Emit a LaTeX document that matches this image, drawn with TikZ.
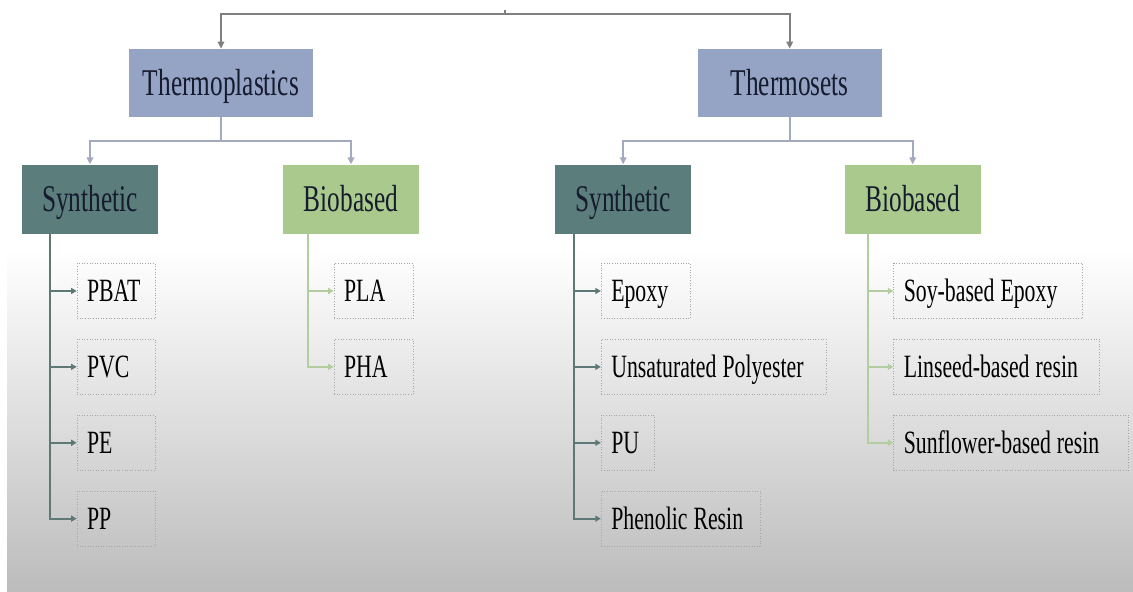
\documentclass[tikz,border=0pt]{standalone}
\usepackage{fontspec}
\setmainfont{Liberation Serif}[FakeStretch=0.67]
\usepackage{tikz}
\usetikzlibrary{arrows.meta,positioning,calc}
\usepackage{xcolor}
\definecolor{famblue}{HTML}{95A3C5}
\definecolor{synteal}{HTML}{5B7E7D}
\definecolor{biogreen}{HTML}{A9C98D}
\definecolor{headtext}{HTML}{161B2E}
\definecolor{busgray}{HTML}{7F7F7F}
\definecolor{subgray}{HTML}{A3A9BE}
\definecolor{synline}{HTML}{5E7875}
\definecolor{bioline}{HTML}{B3CE9E}
\definecolor{leafborder}{HTML}{A6A6A6}
\definecolor{bgbottom}{HTML}{BCBCBC}

\begin{document}
\begin{tikzpicture}[
  catbox/.style={inner sep=0pt, minimum width=27.2mm, minimum height=13.8mm, text height=14.2pt, text depth=0pt, font=\fontsize{21.5}{24}\selectfont, text=headtext},
  family/.style={catbox, fill=famblue, minimum width=36.8mm, minimum height=13.6mm},
  synbox/.style={catbox, fill=synteal},
  biobox/.style={catbox, fill=biogreen},
  leaf/.style={draw=leafborder, densely dotted, line width=0.5pt, text width=#1, align=left, inner xsep=2mm, inner ysep=0pt, minimum height=11mm, text height=12.2pt, text depth=0pt, font=\fontsize{18.5}{21}\selectfont, execute at begin node={\spaceskip=1.2mm\relax}},
  busarr/.style={draw=busgray, line width=0.4mm, -{Triangle[length=1.4mm, width=1.3mm]}},
  subarr/.style={draw=subgray, line width=0.4mm, -{Triangle[length=1.4mm, width=1.3mm]}},
  synarr/.style={draw=synline, line width=0.35mm, -{Triangle[length=1.1mm, width=1.2mm]}},
  bioarr/.style={draw=bioline, line width=0.35mm, -{Triangle[length=1.1mm, width=1.2mm]}},
]
  % Background
  \useasboundingbox (0,0) rectangle (226.6mm,-118.4mm);
  \fill[white] (0,0) rectangle (226.6mm,-118.4mm);
  \shade[top color=white, bottom color=bgbottom] (1.4mm,-50mm) rectangle (226.6mm,-118.4mm);

  % Families
  \coordinate (root) at (101mm,-2mm);
  \node[family] (tp) at (44.2mm,-16.6mm) {Thermoplastics};
  \node[family, right=76.8mm of tp] (ts) {Thermosets};
  \draw[busarr] (root) -- ++(0,-0.9mm) -| (tp.north);
  \draw[busarr] (root) -- ++(0,-0.9mm) -| (ts.north);

  % Thermoplastics branch
  \node[synbox, below=9.4mm of tp, xshift=-26.2mm] (ls) {Synthetic};
  \node[biobox, below=9.4mm of tp, xshift=26mm] (lb) {Biobased};
  \draw[subarr] (tp.south) -- ++(0,-4.8mm) -| (ls.north);
  \draw[subarr] (tp.south) -- ++(0,-4.8mm) -| (lb.north);

  % Thermosets branch
  \node[synbox, below=9.4mm of ts, xshift=-33.3mm] (rs) {Synthetic};
  \node[biobox, below=9.4mm of ts, xshift=24.6mm] (rb) {Biobased};
  \draw[subarr] (ts.south) -- ++(0,-4.8mm) -| (rs.north);
  \draw[subarr] (ts.south) -- ++(0,-4.8mm) -| (rb.north);

  % Synthetic thermoplastics
  \node[leaf=11.6mm, below right=5.8mm and 11mm of ls.south west] (pbat) {PBAT};
  \node[leaf=11.6mm, below right=4mm and 0mm of pbat.south west] (pvc) {PVC};
  \node[leaf=11.6mm, below right=4mm and 0mm of pvc.south west] (pe) {PE};
  \node[leaf=11.6mm, below right=4mm and 0mm of pe.south west] (pp) {PP};
  \coordinate (lst) at ([xshift=5.6mm]ls.south west);
  \foreach \n in {pbat,pvc,pe,pp}
    \draw[synarr] (lst) |- (\n.west);

  % Biobased thermoplastics
  \node[leaf=11.8mm, below right=5.8mm and 10.2mm of lb.south west] (pla) {PLA};
  \node[leaf=11.8mm, below right=4mm and 0mm of pla.south west] (pha) {PHA};
  \coordinate (lbt) at ([xshift=5mm]lb.south west);
  \foreach \n in {pla,pha}
    \draw[bioarr] (lbt) |- (\n.west);

  % Synthetic thermosets
  \node[leaf=13.8mm, below right=5.8mm and 9.2mm of rs.south west] (epoxy) {Epoxy};
  \node[leaf=41mm, below right=4mm and 0mm of epoxy.south west] (upe) {Unsaturated Polyester};
  \node[leaf=6.6mm, below right=4mm and 0mm of upe.south west] (pu) {PU};
  \node[leaf=27.8mm, below right=4mm and 0mm of pu.south west] (phen) {Phenolic Resin};
  \coordinate (rst) at ([xshift=3.8mm]rs.south west);
  \foreach \n in {epoxy,upe,pu,phen}
    \draw[synarr] (rst) |- (\n.west);

  % Biobased thermosets
  \node[leaf=33.8mm, below right=5.8mm and 9.8mm of rb.south west] (soy) {Soy-based Epoxy};
  \node[leaf=37.2mm, below right=4mm and 0mm of soy.south west] (lin) {Linseed-based resin};
  \node[leaf=43mm, below right=4mm and 0mm of lin.south west] (sun) {Sunflower-based resin};
  \coordinate (rbt) at ([xshift=4.8mm]rb.south west);
  \foreach \n in {soy,lin,sun}
    \draw[bioarr] (rbt) |- (\n.west);
\end{tikzpicture}
\end{document}
